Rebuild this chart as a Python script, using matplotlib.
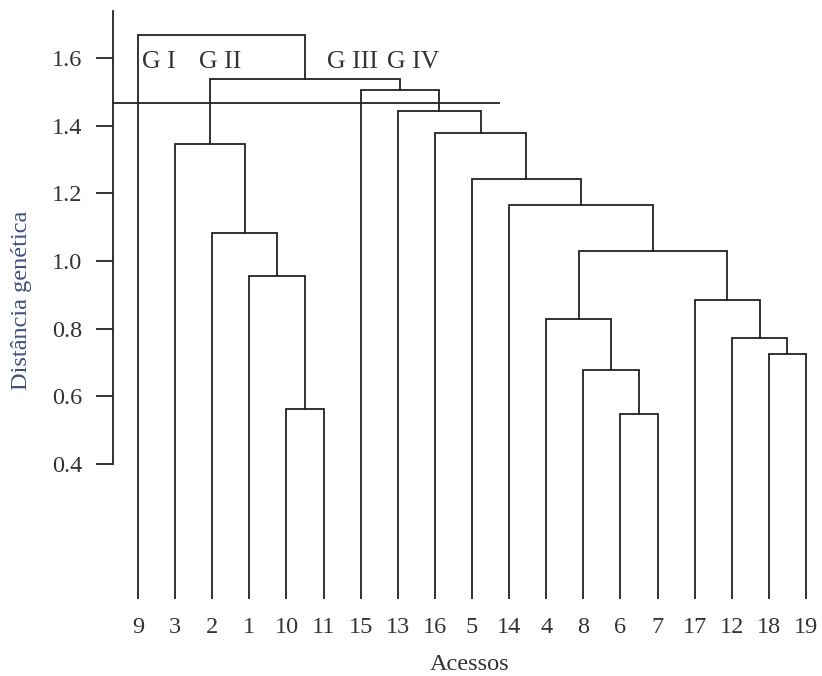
import matplotlib.pyplot as plt

# leaf order along the x axis
leaf_labels = ['9', '3', '2', '1', '10', '11', '15', '13', '16', '5', '14',
               '4', '8', '6', '7', '17', '12', '18', '19']

# merges: (left, right, height); 'cN' refers to the N-th merge
merge_left = ['10', '1', '2', '3', '6', '8', '4', '18', '12', '17',
              'c6', '14', '5', '16', '13', '15', 'c3', '9']
merge_right = ['11', 'c0', 'c1', 'c2', '7', 'c4', 'c5', '19', 'c7', 'c8',
               'c9', 'c10', 'c11', 'c12', 'c13', 'c14', 'c15', 'c16']
merge_height = [0.561, 0.956, 1.084, 1.345, 0.548, 0.677, 0.829, 0.725, 0.773, 0.884,
                1.029, 1.166, 1.243, 1.380, 1.443, 1.507, 1.539, 1.670]

cut_height = 1.468
cut_end = 9.75

group_names = ['G I', 'G II', 'G III', 'G IV']
group_x = [0.1, 1.65, 5.1, 6.72]
group_y = 1.588

yticks = [0.4, 0.6, 0.8, 1.0, 1.2, 1.4, 1.6]

serif = ['Liberation Serif', 'DejaVu Serif']
line_color = '#222222'

fig = plt.figure(figsize=(8.22, 6.76), dpi=100)
ax = fig.add_axes([113 / 822, 77 / 676, 1 - 113 / 822, (599 - 11) / 676])

# node positions
pos = {lab: (i, 0.0) for i, lab in enumerate(leaf_labels)}
for k, (a, b, h) in enumerate(zip(merge_left, merge_right, merge_height)):
    xa, ya = pos[a]
    xb, yb = pos[b]
    ax.plot([xa, xa, xb, xb], [ya, h, h, yb], color=line_color, lw=1.3,
            solid_joinstyle='miter')
    pos['c%d' % k] = ((xa + xb) / 2, h)

xmin = -25 / 37.11
ax.set_xlim(xmin, xmin + (822 - 113) / 37.11)
ax.set_ylim(0, 1.74)

# cut line
ax.hlines(cut_height, xmin, cut_end, color=line_color, lw=1.3)

for name, gx in zip(group_names, group_x):
    ax.text(gx, group_y, name, fontsize=18.5, family=serif, color='#333333',
            ha='left', va='center')

for s in ['top', 'right', 'bottom']:
    ax.spines[s].set_visible(False)
ax.spines['left'].set_bounds(0.4, 1.74)
ax.spines['left'].set_color(line_color)
ax.spines['left'].set_linewidth(1.3)

ax.set_yticks(yticks)
ax.set_yticklabels(['%.1f' % v for v in yticks], family=serif, fontsize=17.5,
                   color='#333333')
ax.tick_params(axis='y', length=12, width=1.3, color=line_color, pad=10)

ax.set_xticks(range(len(leaf_labels)))
ax.set_xticklabels(leaf_labels, family=serif, fontsize=17.5, color='#333333')
ax.tick_params(axis='x', length=0, pad=13)

fig.text(21 / 822, 1 - 300 / 676, 'Distância genética', rotation=90,
         ha='center', va='center', family=serif, fontsize=17.5, color='#3d4f86')
fig.text(470 / 822, 1 - 664 / 676, 'Acessos', ha='center', va='center',
         family=serif, fontsize=17.5, color='#333333')

fig.savefig('out.png', dpi=100)
